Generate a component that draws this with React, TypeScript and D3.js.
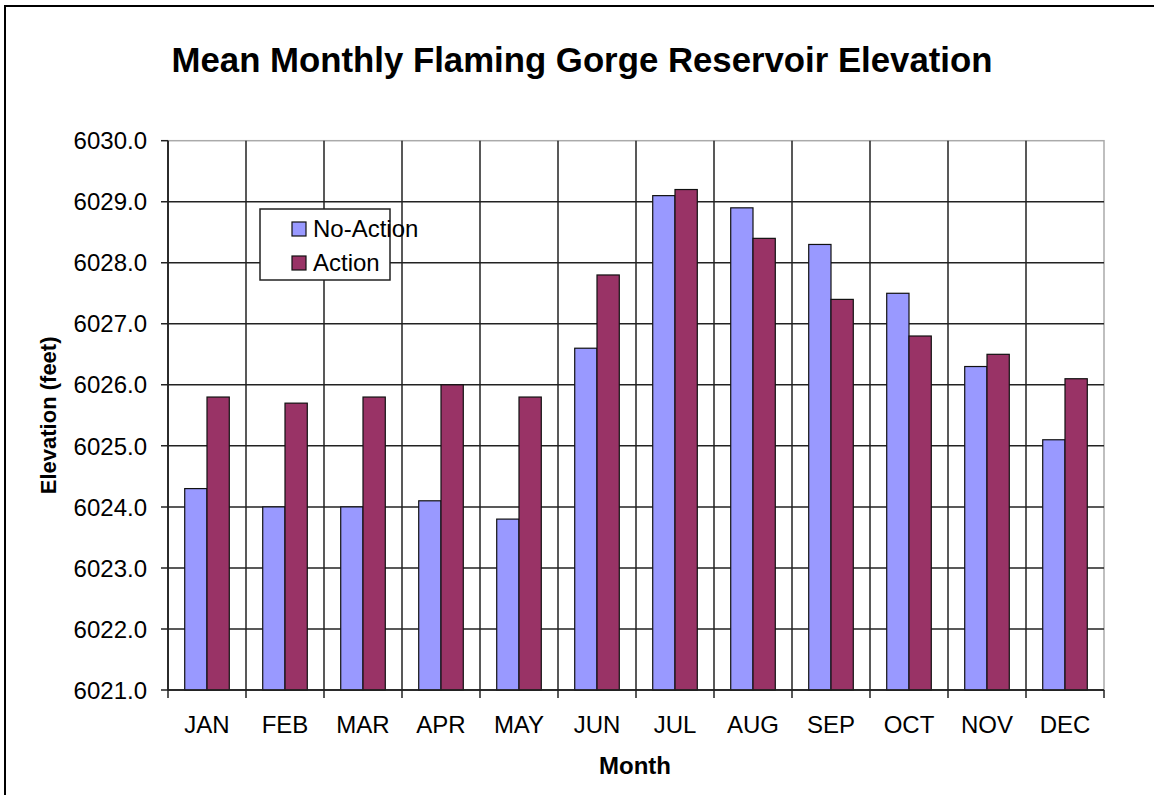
import React from "react";
import * as d3 from "d3";

const months = ["JAN", "FEB", "MAR", "APR", "MAY", "JUN", "JUL", "AUG", "SEP", "OCT", "NOV", "DEC"];
const noAction = [6024.3, 6024.0, 6024.0, 6024.1, 6023.8, 6026.6, 6029.1, 6028.9, 6028.3, 6027.5, 6026.3, 6025.1];
const action = [6025.8, 6025.7, 6025.8, 6026.0, 6025.8, 6027.8, 6029.2, 6028.4, 6027.4, 6026.8, 6026.5, 6026.1];
const yTicks = [6021, 6022, 6023, 6024, 6025, 6026, 6027, 6028, 6029, 6030];
const seriesNames = ["No-Action", "Action"];
const colors = ["#9999FF", "#993366"];

const W = 1154;
const H = 795;
const left = 168;
const right = 1104;
const top = 140.7;
const bottom = 690;
const font = "Liberation Sans, Arial, sans-serif";

export default function App() {
  const x = d3.scaleBand<string>().domain(months).range([left, right]).paddingInner(0).paddingOuter(0);
  const y = d3.scaleLinear().domain([6021, 6030]).range([bottom, top]);
  const bw = x.bandwidth();
  const barW = bw / 3.5;
  const sub = d3.scaleBand<string>().domain(seriesNames).range([bw * 0.75 / 3.5, bw * 0.75 / 3.5 + 2 * barW]);
  const data = [noAction, action];

  return (
    <svg width={W} height={H} style={{ position: "absolute", left: 0, top: 0, background: "#fff" }} fontFamily={font}>
      <rect x={0} y={0} width={W} height={H} fill="#fff" />
      <rect x={5} y={6} width={W + 20} height={H + 20} fill="none" stroke="#000" strokeWidth={2} />
      <text x={582} y={72} textAnchor="middle" fontSize={35} fontWeight="bold" textLength={821} lengthAdjust="spacingAndGlyphs">
        Mean Monthly Flaming Gorge Reservoir Elevation
      </text>
      {/* plot background */}
      <rect x={left} y={top} width={right - left} height={bottom - top} fill="#fff" stroke="#aaa" strokeWidth={1.5} />
      {/* horizontal gridlines */}
      {yTicks.map((t) => (
        <line key={"h" + t} x1={left - 7} x2={t === 6030 ? left : right} y1={y(t)} y2={y(t)} stroke="#222" strokeWidth={1.5} />
      ))}
      {/* vertical gridlines */}
      {months.map((m, i) => (
        <line key={"v" + m} x1={x(m)!} x2={x(m)!} y1={top} y2={bottom + 8} stroke="#222" strokeWidth={1.5} />
      ))}
      <line x1={right} x2={right} y1={bottom} y2={bottom + 8} stroke="#222" strokeWidth={1.5} />
      {/* bars */}
      {data.map((vals, si) =>
        vals.map((v, i) => (
          <rect
            key={si + "-" + i}
            x={x(months[i])! + sub(seriesNames[si])!}
            y={y(v)}
            width={sub.bandwidth()}
            height={y(6021) - y(v)}
            fill={colors[si]}
            stroke="#111"
            strokeWidth={1.2}
          />
        ))
      )}
      {/* axes */}
      <line x1={left} x2={left} y1={top} y2={bottom} stroke="#222" strokeWidth={1.5} />
      <line x1={left} x2={right} y1={bottom} y2={bottom} stroke="#222" strokeWidth={1.5} />
      {yTicks.map((t) => (
        <text key={"yl" + t} x={147} y={y(t)} dy="0.36em" textAnchor="end" fontSize={24} fill="#000">
          {d3.format(".1f")(t)}
        </text>
      ))}
      {months.map((m) => (
        <text key={"xl" + m} x={x(m)! + bw / 2} y={733} textAnchor="middle" fontSize={24} fill="#000">
          {m}
        </text>
      ))}
      <text x={635} y={774} textAnchor="middle" fontSize={24} fontWeight="bold">Month</text>
      <text transform={`translate(56,${(top + bottom) / 2}) rotate(-90)`} textAnchor="middle" fontSize={22} fontWeight="bold">
        Elevation (feet)
      </text>
      {/* legend */}
      <rect x={260} y={209} width={130} height={71} fill="#fff" stroke="#222" strokeWidth={1.5} />
      {seriesNames.map((s, i) => (
        <g key={s}>
          <rect x={292} y={222 + i * 34} width={14} height={14} fill={colors[i]} stroke="#111" strokeWidth={1.2} />
          <text x={313} y={237 + i * 34} fontSize={24}>{s}</text>
        </g>
      ))}
    </svg>
  );
}
